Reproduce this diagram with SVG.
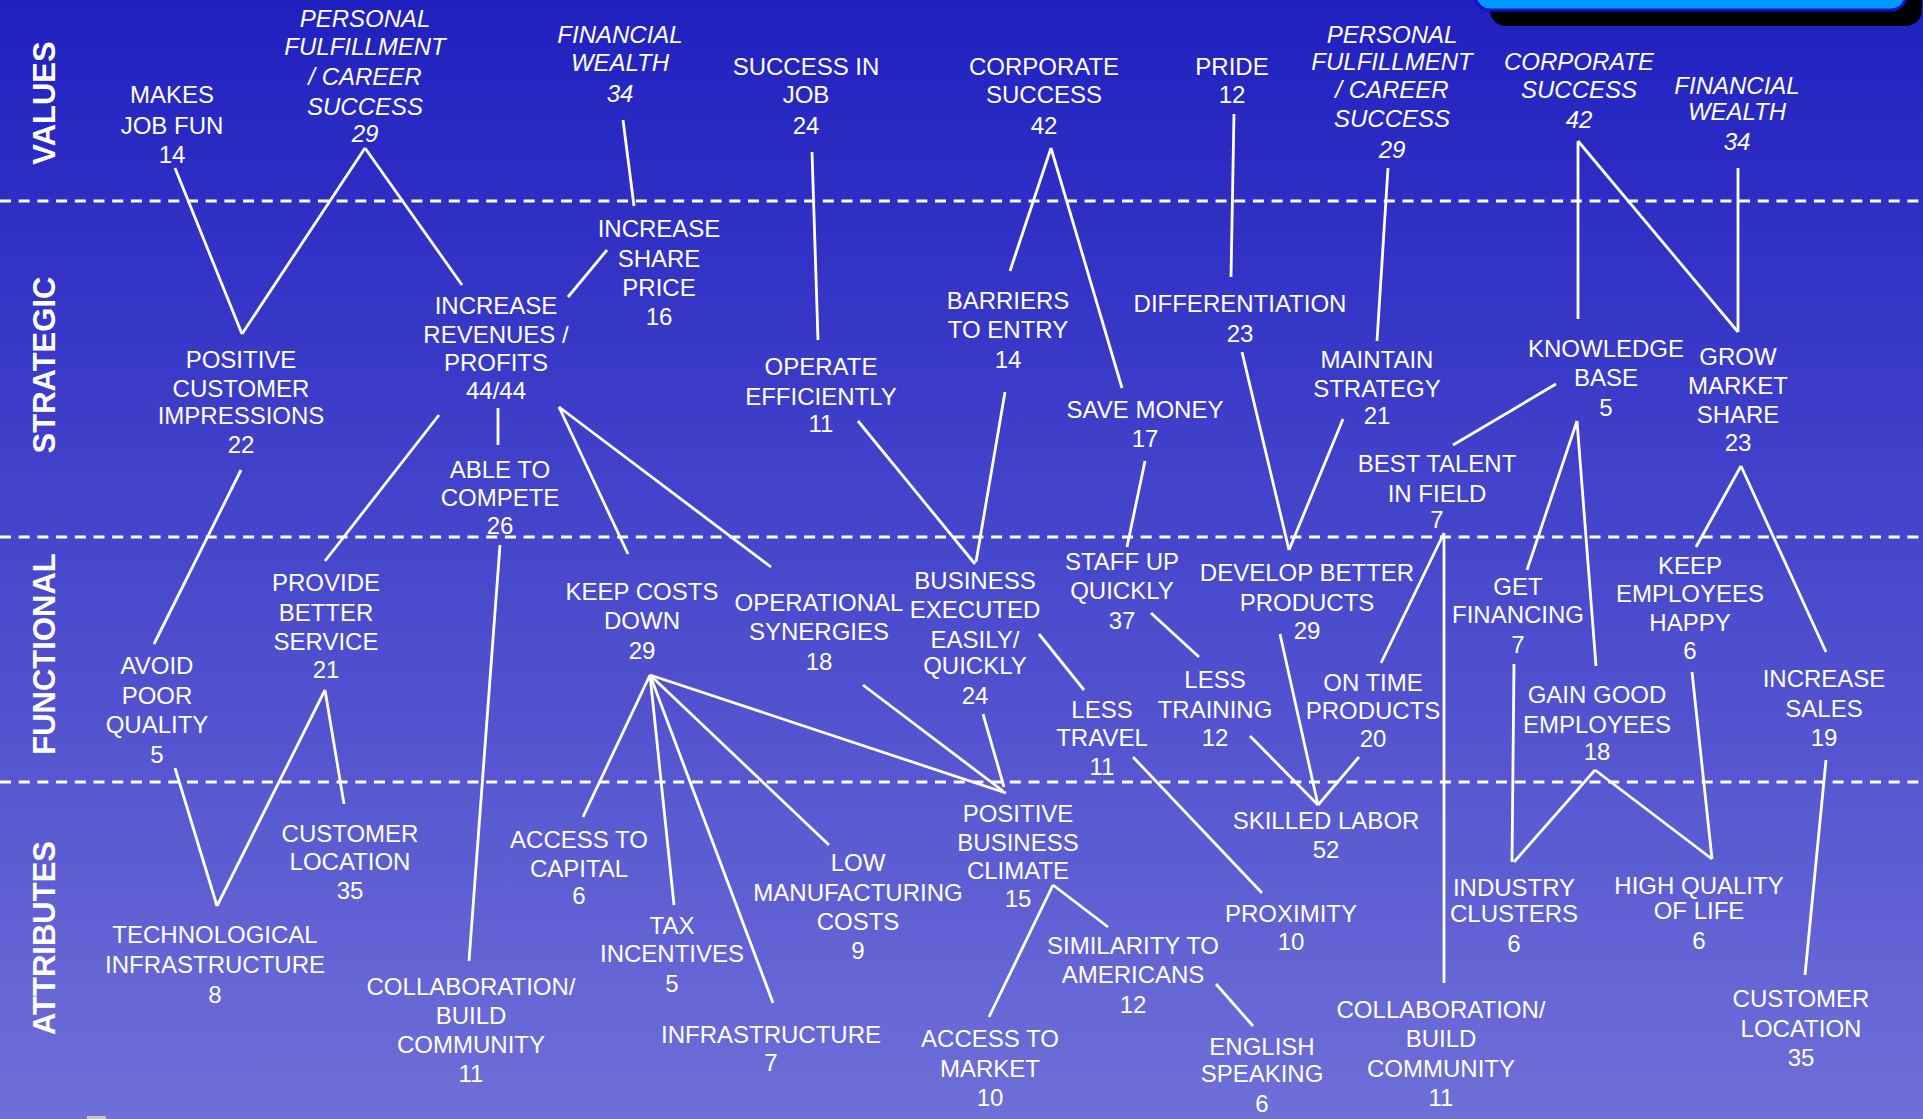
<svg xmlns="http://www.w3.org/2000/svg" width="1923" height="1119" viewBox="0 0 1923 1119">
  <defs>
    <linearGradient id="bg" x1="0" y1="0" x2="0" y2="1">
      <stop offset="0" stop-color="#2020c0"/>
      <stop offset="1" stop-color="#6f6fd8"/>
    </linearGradient>
  </defs>
  <style>
    .lvl { fill: #ffffff; font-family: "Liberation Sans", Arial, sans-serif; font-size: 31px; font-weight: bold; text-anchor: middle; }
    .n text { fill: #ffffff; font-family: "Liberation Sans", Arial, sans-serif; font-size: 24px; text-anchor: middle; }
    .n.it text { font-style: italic; }
    .sep { stroke: #ffffff; stroke-width: 3; stroke-dasharray: 11 7.7; fill: none; }
    #connectors line { stroke: #ffffff; stroke-width: 2.8; stroke-linecap: butt; }
  </style>

  <!-- background -->
  <rect x="0" y="0" width="1923" height="1119" fill="url(#bg)"/>

  <!-- title panel cut off at the top edge -->
  <g id="title-panel">
    <rect x="1490" y="-40" width="432" height="66" rx="16" fill="#000000"/>
    <rect x="1475" y="-40" width="431" height="50" rx="15" fill="#0099ff" stroke="#1414cc" stroke-width="3"/>
  </g>
  <rect x="87" y="1116" width="19" height="3" fill="#c4c4c4"/>

  <!-- level separators -->
  <g id="separators">
    <line class="sep" x1="0" y1="201" x2="1923" y2="201"/>
    <line class="sep" x1="0" y1="537" x2="1923" y2="537"/>
    <line class="sep" x1="0" y1="782" x2="1923" y2="782"/>
  </g>

  <!-- level titles -->
  <g id="levels">
    <text class="lvl" transform="translate(55,103) rotate(-90)">VALUES</text>
    <text class="lvl" transform="translate(55,365) rotate(-90)">STRATEGIC</text>
    <text class="lvl" transform="translate(55,654) rotate(-90)">FUNCTIONAL</text>
    <text class="lvl" transform="translate(55,938) rotate(-90)">ATTRIBUTES</text>
  </g>

  <!-- links between levels -->
  <g id="connectors">
    <line x1="175" y1="168" x2="242" y2="334"/>
    <line x1="365" y1="148" x2="242" y2="334"/>
    <line x1="365" y1="148" x2="462" y2="285"/>
    <line x1="623" y1="120" x2="634" y2="206"/>
    <line x1="607" y1="250" x2="568" y2="297"/>
    <line x1="439" y1="415" x2="325" y2="561"/>
    <line x1="498" y1="408" x2="498" y2="445"/>
    <line x1="559" y1="407" x2="628" y2="554"/>
    <line x1="559" y1="407" x2="771" y2="567"/>
    <line x1="241" y1="470" x2="154" y2="644"/>
    <line x1="500" y1="545" x2="469" y2="961"/>
    <line x1="812" y1="152" x2="818" y2="340"/>
    <line x1="1051" y1="148" x2="1010" y2="271"/>
    <line x1="1051" y1="148" x2="1122" y2="388"/>
    <line x1="1234" y1="114" x2="1231" y2="277"/>
    <line x1="858" y1="421" x2="975" y2="564"/>
    <line x1="1005" y1="392" x2="976" y2="562"/>
    <line x1="1145" y1="461" x2="1127" y2="547"/>
    <line x1="1242" y1="352" x2="1289" y2="550"/>
    <line x1="1343" y1="419" x2="1289" y2="550"/>
    <line x1="1388" y1="168" x2="1377" y2="341"/>
    <line x1="1578" y1="141" x2="1578" y2="319"/>
    <line x1="1578" y1="141" x2="1738" y2="332"/>
    <line x1="1738" y1="168" x2="1738" y2="332"/>
    <line x1="1556" y1="384" x2="1453" y2="445"/>
    <line x1="1444" y1="533" x2="1381" y2="663"/>
    <line x1="1444" y1="533" x2="1444" y2="983"/>
    <line x1="1577" y1="421" x2="1527" y2="570"/>
    <line x1="1577" y1="421" x2="1596" y2="666"/>
    <line x1="1741" y1="466" x2="1696" y2="547"/>
    <line x1="1741" y1="466" x2="1826" y2="652"/>
    <line x1="175" y1="768" x2="217" y2="906"/>
    <line x1="325" y1="690" x2="217" y2="906"/>
    <line x1="325" y1="690" x2="344" y2="804"/>
    <line x1="650" y1="675" x2="583" y2="817"/>
    <line x1="650" y1="675" x2="674" y2="905"/>
    <line x1="650" y1="675" x2="773" y2="1003"/>
    <line x1="650" y1="675" x2="829" y2="845"/>
    <line x1="650" y1="675" x2="1006" y2="793"/>
    <line x1="863" y1="685" x2="1003" y2="791"/>
    <line x1="983" y1="714" x2="1004" y2="787"/>
    <line x1="1039" y1="634" x2="1084" y2="690"/>
    <line x1="1151" y1="613" x2="1199" y2="657"/>
    <line x1="1133" y1="757" x2="1262" y2="893"/>
    <line x1="1250" y1="736" x2="1318" y2="805"/>
    <line x1="1280" y1="634" x2="1318" y2="805"/>
    <line x1="1359" y1="757" x2="1318" y2="805"/>
    <line x1="1053" y1="885" x2="989" y2="1017"/>
    <line x1="1053" y1="885" x2="1108" y2="927"/>
    <line x1="1216" y1="984" x2="1253" y2="1026"/>
    <line x1="1514" y1="664" x2="1512" y2="862"/>
    <line x1="1595" y1="770" x2="1514" y2="862"/>
    <line x1="1595" y1="770" x2="1712" y2="859"/>
    <line x1="1692" y1="672" x2="1712" y2="859"/>
    <line x1="1826" y1="760" x2="1805" y2="975"/>
  </g>

  <!-- VALUES -->
  <g id="makes-job-fun" class="n"><text><tspan x="172" y="103">MAKES</tspan><tspan x="172" y="133.5">JOB FUN</tspan><tspan x="172" y="162.5">14</tspan></text></g>
  <g id="personal-fulfillment-1" class="n it"><text><tspan x="365" y="26.5">PERSONAL</tspan><tspan x="365" y="55">FULFILLMENT</tspan><tspan x="365" y="84.5">/ CAREER</tspan><tspan x="365" y="114.5">SUCCESS</tspan><tspan x="365" y="141.5">29</tspan></text></g>
  <g id="financial-wealth-1" class="n it"><text><tspan x="620" y="42.5">FINANCIAL</tspan><tspan x="620" y="71">WEALTH</tspan><tspan x="620" y="101.5">34</tspan></text></g>
  <g id="success-in-job" class="n"><text><tspan x="806" y="74.5">SUCCESS IN</tspan><tspan x="806" y="103">JOB</tspan><tspan x="806" y="133.5">24</tspan></text></g>
  <g id="corporate-success-1" class="n"><text><tspan x="1044" y="74.5">CORPORATE</tspan><tspan x="1044" y="103">SUCCESS</tspan><tspan x="1044" y="133.5">42</tspan></text></g>
  <g id="pride" class="n"><text><tspan x="1232" y="74.5">PRIDE</tspan><tspan x="1232" y="103">12</tspan></text></g>
  <g id="personal-fulfillment-2" class="n it"><text><tspan x="1392" y="42.5">PERSONAL</tspan><tspan x="1392" y="69.5">FULFILLMENT</tspan><tspan x="1392" y="97.5">/ CAREER</tspan><tspan x="1392" y="126.5">SUCCESS</tspan><tspan x="1392" y="157.5">29</tspan></text></g>
  <g id="corporate-success-2" class="n it"><text><tspan x="1579" y="69.5">CORPORATE</tspan><tspan x="1579" y="97.5">SUCCESS</tspan><tspan x="1579" y="127.5">42</tspan></text></g>
  <g id="financial-wealth-2" class="n it"><text><tspan x="1737" y="93.5">FINANCIAL</tspan><tspan x="1737" y="119.5">WEALTH</tspan><tspan x="1737" y="149.5">34</tspan></text></g>

  <!-- STRATEGIC -->
  <g id="increase-share-price" class="n"><text><tspan x="659" y="237">INCREASE</tspan><tspan x="659" y="266.5">SHARE</tspan><tspan x="659" y="295.5">PRICE</tspan><tspan x="659" y="324.5">16</tspan></text></g>
  <g id="positive-customer-impressions" class="n"><text><tspan x="241" y="367.5">POSITIVE</tspan><tspan x="241" y="397">CUSTOMER</tspan><tspan x="241" y="424">IMPRESSIONS</tspan><tspan x="241" y="453">22</tspan></text></g>
  <g id="increase-revenues" class="n"><text><tspan x="496" y="314">INCREASE</tspan><tspan x="496" y="343">REVENUES /</tspan><tspan x="496" y="370.5">PROFITS</tspan><tspan x="496" y="399">44/44</tspan></text></g>
  <g id="able-to-compete" class="n"><text><tspan x="500" y="477.5">ABLE TO</tspan><tspan x="500" y="506">COMPETE</tspan><tspan x="500" y="533.5">26</tspan></text></g>
  <g id="operate-efficiently" class="n"><text><tspan x="821" y="374.5">OPERATE</tspan><tspan x="821" y="405">EFFICIENTLY</tspan><tspan x="821" y="431.5">11</tspan></text></g>
  <g id="barriers-to-entry" class="n"><text><tspan x="1008" y="308.5">BARRIERS</tspan><tspan x="1008" y="338">TO ENTRY</tspan><tspan x="1008" y="367.5">14</tspan></text></g>
  <g id="save-money" class="n"><text><tspan x="1145" y="418">SAVE MONEY</tspan><tspan x="1145" y="447">17</tspan></text></g>
  <g id="differentiation" class="n"><text><tspan x="1240" y="311.5">DIFFERENTIATION</tspan><tspan x="1240" y="341.5">23</tspan></text></g>
  <g id="maintain-strategy" class="n"><text><tspan x="1377" y="367.5">MAINTAIN</tspan><tspan x="1377" y="396.5">STRATEGY</tspan><tspan x="1377" y="423.5">21</tspan></text></g>
  <g id="knowledge-base" class="n"><text><tspan x="1606" y="356.5">KNOWLEDGE</tspan><tspan x="1606" y="386">BASE</tspan><tspan x="1606" y="415.5">5</tspan></text></g>
  <g id="grow-market-share" class="n"><text><tspan x="1738" y="365">GROW</tspan><tspan x="1738" y="394">MARKET</tspan><tspan x="1738" y="422.5">SHARE</tspan><tspan x="1738" y="450.5">23</tspan></text></g>
  <g id="best-talent" class="n"><text><tspan x="1437" y="471.5">BEST TALENT</tspan><tspan x="1437" y="501.5">IN FIELD</tspan><tspan x="1437" y="527.5">7</tspan></text></g>

  <!-- FUNCTIONAL -->
  <g id="avoid-poor-quality" class="n"><text><tspan x="157" y="674">AVOID</tspan><tspan x="157" y="703.5">POOR</tspan><tspan x="157" y="733">QUALITY</tspan><tspan x="157" y="762.5">5</tspan></text></g>
  <g id="provide-better-service" class="n"><text><tspan x="326" y="591">PROVIDE</tspan><tspan x="326" y="620.5">BETTER</tspan><tspan x="326" y="650">SERVICE</tspan><tspan x="326" y="677.5">21</tspan></text></g>
  <g id="keep-costs-down" class="n"><text><tspan x="642" y="599.5">KEEP COSTS</tspan><tspan x="642" y="629">DOWN</tspan><tspan x="642" y="658.5">29</tspan></text></g>
  <g id="operational-synergies" class="n"><text><tspan x="819" y="610.5">OPERATIONAL</tspan><tspan x="819" y="639.5">SYNERGIES</tspan><tspan x="819" y="669.5">18</tspan></text></g>
  <g id="business-executed" class="n"><text><tspan x="975" y="589">BUSINESS</tspan><tspan x="975" y="618">EXECUTED</tspan><tspan x="975" y="647.5">EASILY/</tspan><tspan x="975" y="674">QUICKLY</tspan><tspan x="975" y="703.5">24</tspan></text></g>
  <g id="staff-up-quickly" class="n"><text><tspan x="1122" y="570">STAFF UP</tspan><tspan x="1122" y="599">QUICKLY</tspan><tspan x="1122" y="629">37</tspan></text></g>
  <g id="less-travel" class="n"><text><tspan x="1102" y="717.5">LESS</tspan><tspan x="1102" y="746">TRAVEL</tspan><tspan x="1102" y="774.5">11</tspan></text></g>
  <g id="less-training" class="n"><text><tspan x="1215" y="687.5">LESS</tspan><tspan x="1215" y="717.5">TRAINING</tspan><tspan x="1215" y="746">12</tspan></text></g>
  <g id="develop-better-products" class="n"><text><tspan x="1307" y="581">DEVELOP BETTER</tspan><tspan x="1307" y="610.5">PRODUCTS</tspan><tspan x="1307" y="638.5">29</tspan></text></g>
  <g id="on-time-products" class="n"><text><tspan x="1373" y="690.5">ON TIME</tspan><tspan x="1373" y="719">PRODUCTS</tspan><tspan x="1373" y="747">20</tspan></text></g>
  <g id="get-financing" class="n"><text><tspan x="1518" y="594.5">GET</tspan><tspan x="1518" y="622.5">FINANCING</tspan><tspan x="1518" y="653">7</tspan></text></g>
  <g id="gain-good-employees" class="n"><text><tspan x="1597" y="703">GAIN GOOD</tspan><tspan x="1597" y="733">EMPLOYEES</tspan><tspan x="1597" y="759.5">18</tspan></text></g>
  <g id="keep-employees-happy" class="n"><text><tspan x="1690" y="573.5">KEEP</tspan><tspan x="1690" y="602">EMPLOYEES</tspan><tspan x="1690" y="630.5">HAPPY</tspan><tspan x="1690" y="658.5">6</tspan></text></g>
  <g id="increase-sales" class="n"><text><tspan x="1824" y="687">INCREASE</tspan><tspan x="1824" y="716.5">SALES</tspan><tspan x="1824" y="746">19</tspan></text></g>

  <!-- ATTRIBUTES -->
  <g id="technological-infrastructure" class="n"><text><tspan x="215" y="943">TECHNOLOGICAL</tspan><tspan x="215" y="973">INFRASTRUCTURE</tspan><tspan x="215" y="1002.5">8</tspan></text></g>
  <g id="customer-location-1" class="n"><text><tspan x="350" y="842">CUSTOMER</tspan><tspan x="350" y="870">LOCATION</tspan><tspan x="350" y="899">35</tspan></text></g>
  <g id="collaboration-1" class="n"><text><tspan x="471" y="994.5">COLLABORATION/</tspan><tspan x="471" y="1023.5">BUILD</tspan><tspan x="471" y="1052.5">COMMUNITY</tspan><tspan x="471" y="1082">11</tspan></text></g>
  <g id="access-to-capital" class="n"><text><tspan x="579" y="847.5">ACCESS TO</tspan><tspan x="579" y="877">CAPITAL</tspan><tspan x="579" y="904">6</tspan></text></g>
  <g id="tax-incentives" class="n"><text><tspan x="672" y="933.5">TAX</tspan><tspan x="672" y="962">INCENTIVES</tspan><tspan x="672" y="991.5">5</tspan></text></g>
  <g id="infrastructure" class="n"><text><tspan x="771" y="1042.5">INFRASTRUCTURE</tspan><tspan x="771" y="1071">7</tspan></text></g>
  <g id="low-manufacturing-costs" class="n"><text><tspan x="858" y="871">LOW</tspan><tspan x="858" y="901">MANUFACTURING</tspan><tspan x="858" y="930">COSTS</tspan><tspan x="858" y="959">9</tspan></text></g>
  <g id="positive-business-climate" class="n"><text><tspan x="1018" y="822">POSITIVE</tspan><tspan x="1018" y="850.5">BUSINESS</tspan><tspan x="1018" y="879">CLIMATE</tspan><tspan x="1018" y="907">15</tspan></text></g>
  <g id="access-to-market" class="n"><text><tspan x="990" y="1047">ACCESS TO</tspan><tspan x="990" y="1076.5">MARKET</tspan><tspan x="990" y="1106">10</tspan></text></g>
  <g id="similarity-to-americans" class="n"><text><tspan x="1133" y="954">SIMILARITY TO</tspan><tspan x="1133" y="983">AMERICANS</tspan><tspan x="1133" y="1013">12</tspan></text></g>
  <g id="english-speaking" class="n"><text><tspan x="1262" y="1055">ENGLISH</tspan><tspan x="1262" y="1082">SPEAKING</tspan><tspan x="1262" y="1111.5">6</tspan></text></g>
  <g id="proximity" class="n"><text><tspan x="1291" y="922">PROXIMITY</tspan><tspan x="1291" y="950">10</tspan></text></g>
  <g id="skilled-labor" class="n"><text><tspan x="1326" y="829">SKILLED LABOR</tspan><tspan x="1326" y="858">52</tspan></text></g>
  <g id="collaboration-2" class="n"><text><tspan x="1441" y="1018">COLLABORATION/</tspan><tspan x="1441" y="1047">BUILD</tspan><tspan x="1441" y="1077">COMMUNITY</tspan><tspan x="1441" y="1106">11</tspan></text></g>
  <g id="industry-clusters" class="n"><text><tspan x="1514" y="895.5">INDUSTRY</tspan><tspan x="1514" y="921.5">CLUSTERS</tspan><tspan x="1514" y="951.5">6</tspan></text></g>
  <g id="high-quality-of-life" class="n"><text><tspan x="1699" y="894">HIGH QUALITY</tspan><tspan x="1699" y="919">OF LIFE</tspan><tspan x="1699" y="949">6</tspan></text></g>
  <g id="customer-location-2" class="n"><text><tspan x="1801" y="1007">CUSTOMER</tspan><tspan x="1801" y="1036.5">LOCATION</tspan><tspan x="1801" y="1066">35</tspan></text></g>
</svg>
